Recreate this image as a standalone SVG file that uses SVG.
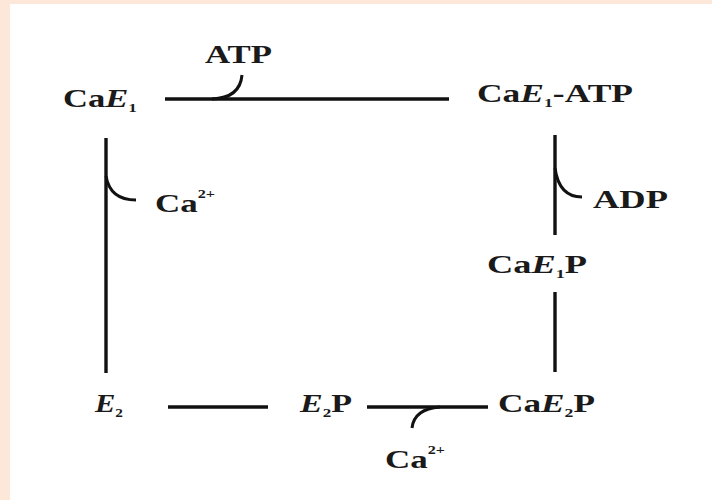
<svg xmlns="http://www.w3.org/2000/svg" width="712" height="500" viewBox="0 0 712 500">
<style>
.t{font-family:"Liberation Serif","Times New Roman",serif;font-weight:bold;font-size:26px;fill:#1a1a1a}
.i{font-style:italic}
.sub{font-size:13px}
.sup{font-size:12px}
.ln{stroke:#111;stroke-width:3.4;fill:none;stroke-linecap:butt}
.hk{stroke:#111;stroke-width:3;fill:none}
</style>
<rect x="0" y="0" width="712" height="500" fill="#ffffff"/>
<rect x="0" y="0" width="712" height="4" fill="#fde7d8"/>
<rect x="0" y="0" width="10" height="500" fill="#fde7d8"/>
<g id="connectors">
<line class="ln" x1="165" y1="99" x2="449" y2="99"/>
<path class="hk" d="M 212 99 Q 240 98 242 75"/>
<line class="ln" x1="555" y1="135" x2="555" y2="235"/>
<path class="hk" d="M 555 168 Q 559 197 582 197"/>
<line class="ln" x1="555" y1="292" x2="555" y2="372"/>
<line class="ln" x1="106" y1="138" x2="106" y2="373"/>
<path class="hk" d="M 106 176 Q 110 200 136 200"/>
<line class="ln" x1="168" y1="407" x2="268" y2="407"/>
<line class="ln" x1="367" y1="407" x2="488" y2="407"/>
<path class="hk" d="M 440 407 Q 414 409 412 428"/>
</g>
<g id="atp"><text class="t" x="205" y="63" textLength="67" lengthAdjust="spacingAndGlyphs">ATP</text></g>
<g id="cae1"><text class="t" x="63" y="107" textLength="74" lengthAdjust="spacingAndGlyphs">Ca<tspan class="i">E</tspan><tspan class="sub" dy="5">1</tspan></text></g>
<g id="cae1atp"><text class="t" x="477" y="102" textLength="156" lengthAdjust="spacingAndGlyphs">Ca<tspan class="i">E</tspan><tspan class="sub" dy="5">1</tspan><tspan dy="-5">-ATP</tspan></text></g>
<g id="ca-left"><text class="t" x="155" y="212" font-size="28" textLength="60" lengthAdjust="spacingAndGlyphs">Ca<tspan class="sup" dy="-14">2+</tspan></text></g>
<g id="adp"><text class="t" x="593" y="208" textLength="75" lengthAdjust="spacingAndGlyphs">ADP</text></g>
<g id="cae1p"><text class="t" x="487" y="273" textLength="100" lengthAdjust="spacingAndGlyphs">Ca<tspan class="i">E</tspan><tspan class="sub" dy="5">1</tspan><tspan dy="-5">P</tspan></text></g>
<g id="e2"><text class="t" x="95" y="412" textLength="28" lengthAdjust="spacingAndGlyphs"><tspan class="i">E</tspan><tspan class="sub" dy="5">2</tspan></text></g>
<g id="e2p"><text class="t" x="300" y="412" textLength="52" lengthAdjust="spacingAndGlyphs"><tspan class="i">E</tspan><tspan class="sub" dy="5">2</tspan><tspan dy="-5">P</tspan></text></g>
<g id="cae2p"><text class="t" x="498" y="412" textLength="97" lengthAdjust="spacingAndGlyphs">Ca<tspan class="i">E</tspan><tspan class="sub" dy="5">2</tspan><tspan dy="-5">P</tspan></text></g>
<g id="ca-bottom"><text class="t" x="385" y="468" font-size="28" textLength="60" lengthAdjust="spacingAndGlyphs">Ca<tspan class="sup" dy="-14">2+</tspan></text></g>
</svg>
